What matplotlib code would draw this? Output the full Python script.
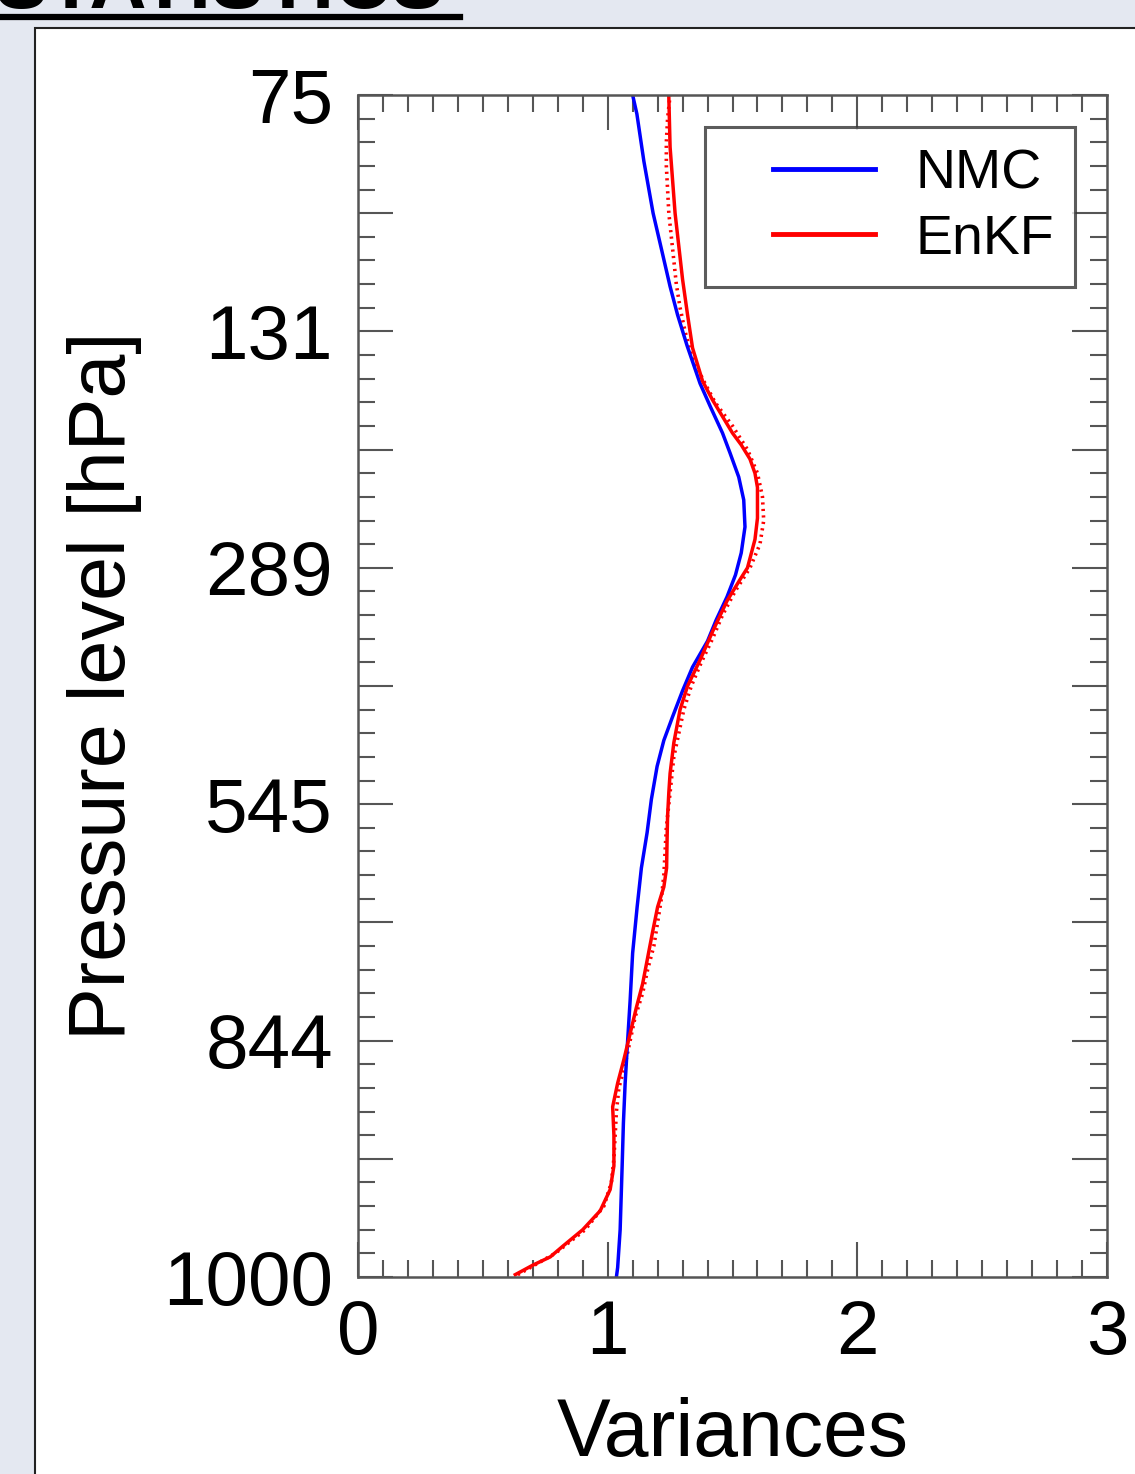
import matplotlib
matplotlib.use("Agg")
import matplotlib.pyplot as plt
import matplotlib.patches as patches
import numpy as np
from matplotlib.ticker import MultipleLocator, FuncFormatter
from matplotlib.legend_handler import HandlerLine2D

plt.rcParams['font.family'] = ['Liberation Sans', 'DejaVu Sans']

# model level index (0 = surface) and the pressure shown for every 10th level
level_ticks = [0, 10, 20, 30, 40, 50]
level_labels = ['1000', '844', '545', '289', '131', '75']

# NMC variances
nmc_level = [0.0, 0.4, 2.0, 4.7, 6.5, 8.2, 10.0, 11.7, 13.7, 15.65, 17.3, 18.8,
             20.2, 21.6, 22.7, 23.7, 24.8, 25.8, 26.9, 27.8, 28.77, 29.7, 30.63,
             31.73, 32.87, 33.84, 34.86, 35.7, 36.8, 37.8, 39.4, 40.7, 41.9, 43.5,
             45.0, 47.2, 49.2, 50.0]
nmc_var = [1.035, 1.04, 1.05, 1.058, 1.063, 1.07, 1.08, 1.09, 1.10, 1.118, 1.135,
           1.158, 1.175, 1.198, 1.225, 1.26, 1.30, 1.34, 1.40, 1.435, 1.478, 1.512,
           1.535, 1.55, 1.545, 1.525, 1.49, 1.46, 1.412, 1.37, 1.318, 1.28, 1.25,
           1.215, 1.182, 1.145, 1.117, 1.10]

# EnKF variances (smoothed)
enkf_level = [0.1, 0.5, 0.85, 1.3, 2.0, 2.8, 3.7, 4.7, 6.0, 7.2, 8.2, 9.2, 10.3,
              11.4, 12.4, 13.5, 14.6, 15.65, 16.5, 17.3, 18.5, 19.5, 20.5, 21.3,
              22.6, 24.0, 25.0, 26.1, 27.3, 28.6, 29.5, 30.0, 31.2, 32.1, 33.4,
              34.0, 34.6, 35.2, 35.7, 36.4, 37.1, 37.9, 39.3, 40.7, 42.2, 43.6,
              45.0, 47.8, 49.9]
enkf_var = [0.63, 0.70, 0.77, 0.82, 0.90, 0.97, 1.01, 1.025, 1.025, 1.02, 1.04,
            1.065, 1.09, 1.115, 1.14, 1.16, 1.18, 1.20, 1.225, 1.236, 1.238, 1.24,
            1.245, 1.25, 1.265, 1.29, 1.32, 1.37, 1.42, 1.478, 1.53, 1.56, 1.59,
            1.60, 1.60, 1.59, 1.57, 1.535, 1.50, 1.46, 1.42, 1.38, 1.34, 1.32,
            1.30, 1.285, 1.27, 1.25, 1.245]

# EnKF variances (raw, dotted)
raw_level = [0.1, 1, 2, 3, 4, 5, 6, 7, 8, 9, 10, 11, 12, 13, 14, 15, 16, 17, 18,
             19, 20, 21, 22, 23, 24, 25, 26, 27, 28, 29, 30, 31, 32, 33, 34, 35,
             36, 37, 38, 39, 40, 41, 42, 43, 44, 45, 46, 47, 48, 49, 50]
raw_var = [0.64, 0.79, 0.91, 0.985, 1.015, 1.025, 1.03, 1.035, 1.045, 1.07, 1.09,
           1.11, 1.14, 1.16, 1.185, 1.20, 1.215, 1.225, 1.23, 1.235, 1.245, 1.255,
           1.265, 1.285, 1.305, 1.335, 1.375, 1.42, 1.46, 1.51, 1.57, 1.61, 1.625,
           1.62, 1.60, 1.56, 1.50, 1.43, 1.38, 1.335, 1.31, 1.29, 1.275, 1.265,
           1.255, 1.245, 1.24, 1.235, 1.235, 1.24, 1.25]


class ShortLine(HandlerLine2D):
    # legend key drawn only in the right part of the handle box
    def get_xdata(self, legend, xdescent, ydescent, width, height, fontsize):
        x = np.array([-xdescent + 0.315 * width, -xdescent + width])
        return x, x


fig = plt.figure(figsize=(11.35, 14.74), dpi=100)
fig.patch.set_facecolor('#e4e8f1')

# slide title, mostly cut off at the top
fig.text(445 / 1135, 1 - 8 / 1474, 'STATISTICS', fontsize=57, fontweight='bold',
         ha='right', va='baseline', color='black')
fig.add_artist(plt.Line2D([0, 460 / 1135], [1 - 17 / 1474, 1 - 17 / 1474],
                          color='black', lw=4.5, transform=fig.transFigure))

# white picture panel
panel = patches.Rectangle((35 / 1135, -0.05), 1.2, 1.05 - 28 / 1474,
                          transform=fig.transFigure, facecolor='white',
                          edgecolor='#222222', lw=1.5, zorder=0)
fig.add_artist(panel)

ax = fig.add_axes([358 / 1135, 1 - 1277 / 1474, 749 / 1135, 1182 / 1474])
ax.set_facecolor('white')

ax.plot(raw_var, raw_level, color='red', lw=2.6, ls=(0, (0.6, 1.2)))
ax.plot(nmc_var, nmc_level, color='blue', lw=2.5, label='NMC')
ax.plot(enkf_var, enkf_level, color='red', lw=2.5, label='EnKF')

ax.set_xlim(0, 3)
ax.set_ylim(0, 50)

ax.xaxis.set_major_locator(MultipleLocator(1))
ax.xaxis.set_minor_locator(MultipleLocator(0.1))
ax.yaxis.set_major_locator(MultipleLocator(5))
ax.yaxis.set_minor_locator(MultipleLocator(1))


def level_fmt(v, pos):
    for t, lab in zip(level_ticks, level_labels):
        if abs(v - t) < 1e-6:
            return lab
    return ''


ax.yaxis.set_major_formatter(FuncFormatter(level_fmt))
ax.xaxis.set_major_formatter(FuncFormatter(lambda v, p: '%d' % round(v)))

ax.tick_params(which='both', direction='in', top=True, right=True,
               color='#555555', width=1.5)
ax.tick_params(which='major', length=25, labelsize=55)
ax.tick_params(which='minor', length=12)
ax.tick_params(axis='y', which='major', pad=18)
ax.tick_params(axis='x', which='major', pad=16)

for s in ax.spines.values():
    s.set_color('#555555')
    s.set_linewidth(1.8)

ax.set_xlabel('Variances', fontsize=58)
ax.set_ylabel('Pressure level [hPa]', fontsize=57)
ax.xaxis.set_label_coords(0.5, (1277 - 1397) / 1182)
ax.yaxis.set_label_coords((142 - 358) / 749, 0.5)

leg = ax.legend(loc='upper right', bbox_to_anchor=(0.957, 0.973), fontsize=40,
                frameon=True, fancybox=False, edgecolor='#333333',
                handlelength=2.68, handletextpad=0.72, borderpad=0.38,
                labelspacing=0.25, borderaxespad=0,
                handler_map={plt.Line2D: ShortLine()})
leg.get_frame().set_linewidth(2.2)
for line in leg.get_lines():
    line.set_linewidth(3.5)

fig.savefig('out.png', dpi=100, facecolor=fig.get_facecolor())
